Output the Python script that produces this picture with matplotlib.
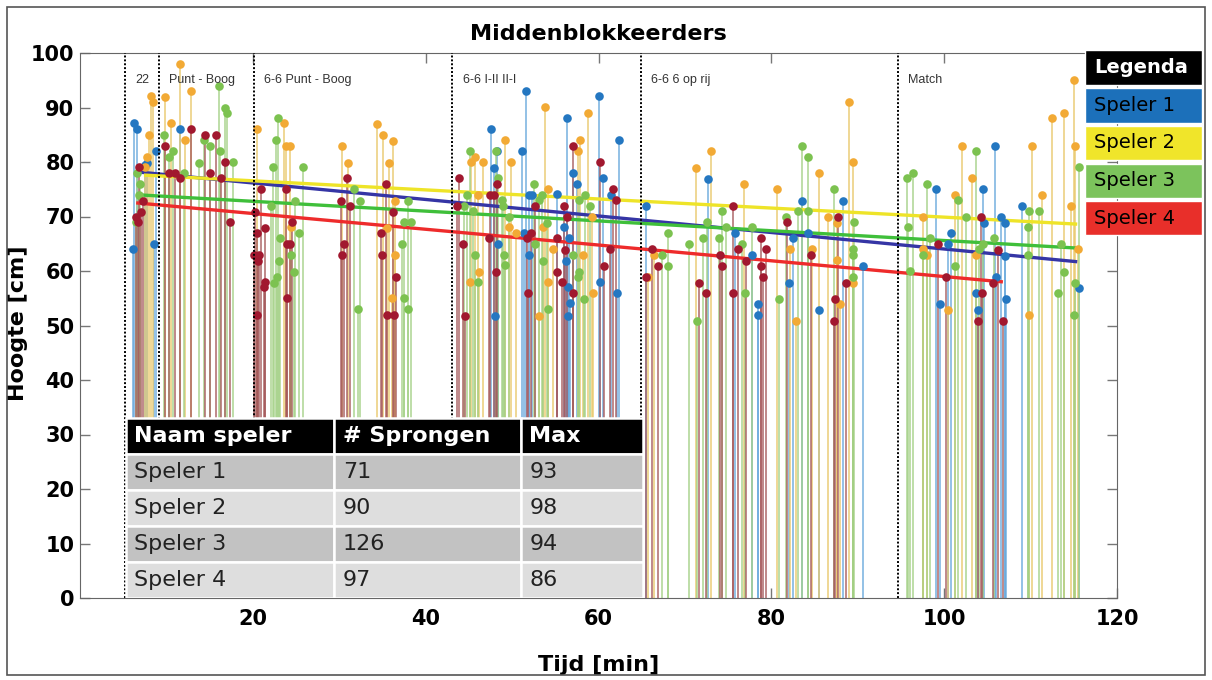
import numpy as np
import matplotlib
matplotlib.use("Agg")
import matplotlib.pyplot as plt
from matplotlib.patches import Rectangle

plt.rcParams['font.family'] = ['DejaVu Sans']

# jumps per player: time [min], height [cm]
s1_t = [6.1, 6.2, 6.6, 7.5, 7.8, 8.6, 8.8, 11.6,
        47.6, 47.9, 48.0, 48.3, 48.4, 51.2, 51.4, 51.6, 51.9, 52.0, 52.3, 55.2, 56.0, 56.2, 56.4,
        56.5, 56.6, 56.5, 56.7, 57.1, 57.5, 60.0, 60.2, 60.5, 61.4, 62.1, 62.4,
        65.5, 72.7, 75.8, 77.8, 78.5, 78.5, 82.1, 82.5, 83.5, 84.2, 85.5, 88.3, 90.6,
        99.1, 99.5, 100.5, 100.8, 103.7, 103.9, 104.5, 104.6, 105.9, 106.0, 106.6, 107.0, 107.0,
        107.1, 109.0, 115.6]
s1_h = [64, 87.2, 86, 79.5, 79.8, 65, 82, 86,
        86, 78.9, 51.8, 82, 65, 82, 67, 93, 74, 63, 74, 74.1, 68, 61.8, 88.1,
        57, 66, 51.8, 54.1, 78, 76, 92.1, 58, 77.1, 74, 56, 84,
        72, 76.9, 67, 63, 54, 52, 57.8, 66, 72.8, 67, 52.8, 72.8, 61,
        75, 54, 65, 67, 56, 52.8, 75, 68.8, 83, 58.9, 70, 68.8, 62.8,
        54.9, 71.9, 56.9]

s2_t = [7.5, 7.7, 8.0, 8.2, 8.4, 9.8, 10.5, 11.6, 12.1, 12.9,
        20.5, 23.6, 23.8, 24.3, 24.4, 30.3, 31.0, 34.4, 35.1, 35.5, 35.8, 36.1, 36.2, 36.5, 36.5,
        45.1, 45.3, 45.7, 46.1, 46.2, 46.6, 49.2, 49.7, 49.9, 50.5, 53.1, 53.6, 53.8, 54.2, 54.2,
        54.7, 57.6, 57.9, 58.2, 58.8, 59.2, 59.4,
        65.7, 66.4, 71.3, 73.0, 76.8, 80.7, 82.2, 82.9, 84.7, 85.5, 86.6, 87.6, 87.6, 88.0, 89.0,
        89.5, 89.5,
        97.6, 97.6, 98.0, 100.5, 101.2, 102.1, 103.2, 103.7, 109.8, 110.2, 111.3, 112.5, 113.9,
        114.7, 115.0, 115.1, 115.5]
s2_h = [79, 81, 85, 92.1, 91, 92, 87.1, 98, 84, 93,
        86, 87.1, 83, 83, 68, 83, 79.8, 87, 85, 67.9, 79.8, 55, 83.9, 72.8, 63,
        58, 80, 81, 74, 59.8, 80, 84, 68, 80, 67, 51.7, 68, 90.1, 75, 58,
        64, 82, 84, 63, 89, 70, 56,
        58.9, 63, 78.9, 82, 76, 75, 64, 50.8, 64, 78, 70, 68.8, 62, 54, 91,
        80, 57.8,
        70, 64, 63, 52.8, 74, 83, 77.1, 63, 52, 83, 74, 88, 89,
        72, 95, 83, 64]

s3_t = [6.5, 6.6, 6.8, 7.0, 9.7, 10.3, 10.8, 12.0, 13.8, 14.3, 15.0, 16.1, 16.2, 16.8, 17.0, 17.7,
        22.1, 22.3, 22.5, 22.7, 22.8, 22.9, 23.0, 23.2, 24.4, 24.8, 24.9, 25.3, 25.8, 31.7, 32.2,
        32.4, 37.3, 37.5, 37.5, 37.9, 38.0, 38.3,
        44.4, 44.8, 45.1, 45.5, 45.7, 46.1, 48.1, 48.4, 48.8, 49.0, 49.1, 49.2, 49.6, 52.5, 52.6,
        53.1, 53.5, 53.6, 54.0, 54.1, 57.1, 57.6, 57.7, 57.8, 58.3, 58.4, 59.0,
        67.4, 68.0, 68.1, 70.5, 71.4, 72.1, 72.5, 74.0, 74.3, 74.7, 76.6, 77.0, 77.8, 80.9, 81.7,
        83.1, 83.6, 84.2, 84.3, 87.2, 89.4, 89.5, 89.5, 89.6,
        95.7, 95.8, 96.0, 96.4, 97.6, 98.0, 98.4, 101.2, 101.6, 102.5, 103.7, 104.0, 104.5, 105.8,
        109.7, 109.7, 109.8, 111.0, 113.2, 113.5, 113.9, 115.0, 115.1, 115.6]
s3_h = [69, 78, 74, 76, 85, 81, 82, 78, 79.8, 84, 83, 94, 82, 90, 89, 80,
        72, 79, 57.8, 84, 58.9, 88, 61.8, 66, 63, 59.8, 72.8, 67, 79, 75, 53,
        72.8, 65, 69, 55, 72.8, 53, 69,
        72, 74, 82, 71, 63, 58, 82, 77.1, 73, 72, 63, 61.1, 70, 76, 65,
        73, 74, 61.8, 68.8, 53, 63, 58.9, 73, 59.8, 54.9, 74, 72,
        63, 61, 67, 65, 50.8, 66, 69, 66, 71, 68, 65, 56, 68, 54.9, 70,
        71, 83, 81, 71, 75, 58.9, 64, 63, 69,
        77.1, 68, 60, 78, 63, 76, 66, 61, 73, 70, 82, 64, 65, 66,
        68, 63, 71, 71, 56, 65, 59.8, 52, 57.8, 79]

s4_t = [6.5, 6.7, 6.8, 7.1, 7.3, 9.8, 10.3, 11.0, 11.6, 12.8, 14.5, 15.1, 15.7, 16.3, 16.8, 17.3,
        20.1, 20.3, 20.5, 20.5, 20.6, 20.7, 21.0, 21.3, 21.4, 21.4, 23.8, 24.0, 24.0, 24.3, 24.5,
        30.2, 30.3, 30.5, 30.9, 31.3, 34.8, 34.9, 35.4, 35.5, 36.2, 36.3, 36.6,
        43.6, 43.8, 44.3, 44.6, 47.3, 47.5, 47.9, 48.1, 48.3, 51.7, 51.8, 52.2, 52.7, 55.2, 55.2,
        55.8, 56.0, 56.1, 56.4, 57.0, 57.1, 60.2, 60.6, 61.3, 61.7, 62.0,
        65.5, 66.2, 66.9, 71.6, 72.4, 74.1, 74.3, 75.6, 75.6, 76.1, 77.1, 78.8, 78.8, 79.0, 79.4,
        81.8, 84.6, 87.2, 87.4, 87.7, 88.6,
        99.3, 100.2, 103.9, 104.3, 104.4, 105.7, 106.2, 106.8]
s4_h = [70, 69, 79, 70.8, 72.9, 83, 78, 78, 77.1, 86, 85, 78, 85, 77, 80, 69,
        63, 70.8, 67, 52, 61.8, 63, 75, 57, 67.9, 58, 75, 65, 55, 65, 69,
        72.8, 63, 65, 77.1, 72, 67, 63, 76, 52, 70.8, 52, 58.9,
        72, 77.1, 65, 51.8, 66, 74, 74, 59.8, 76, 66, 56, 67, 72, 66, 59.8,
        58, 72, 63.9, 70, 56, 83, 80, 61, 64, 75, 73,
        58.9, 64, 61, 57.8, 56, 63, 61, 72, 56, 64, 61.8, 66, 61, 58.9, 64,
        69, 63, 50.8, 54.9, 70, 57.8,
        65, 58.9, 50.8, 70, 56, 57.8, 63.9, 50.8]

# trend lines (start / end)
trend_x0 = [6.5, 7.4, 6.5, 6.5]
trend_y0 = [78.2, 77.6, 74.0, 72.5]
trend_x1 = [115.4, 115.4, 115.5, 106.8]
trend_y1 = [61.7, 68.6, 64.2, 58.0]

# training blocks
block_starts = [5.2, 9.1, 20.1, 43.1, 64.9, 94.6]
block_names = ["22", "Punt - Boog", "6-6 Punt - Boog", "6-6 I-II II-I", "6-6 6 op rij", "Match"]

players = ["Speler 1", "Speler 2", "Speler 3", "Speler 4"]
n_jumps = [71, 90, 126, 97]
max_jump = [93, 98, 94, 86]
table_head = ["Naam speler", "# Sprongen", "Max"]

marker_cols = ['#2477c1', '#f2aa35', '#7cc250', '#a1182f']
stem_cols = ['#67a8dc', '#e9c86a', '#a3d085', '#a5585a']
trend_cols = ['#3535a5', '#eee428', '#3fbf3a', '#ee2b2b']
legend_cols = ['#1c70ba', '#f0e52a', '#7cc35c', '#e82f2a']

W, H = 1212, 680
fig = plt.figure(figsize=(W / 100, H / 100), dpi=100)
ax = fig.add_axes([80 / W, 82 / H, 1037 / W, 545 / H])

series = [(s1_t, s1_h), (s2_t, s2_h), (s3_t, s3_h), (s4_t, s4_h)]
for i, (t, h) in enumerate(series):
    ax.vlines(t, 0, h, colors=stem_cols[i], lw=1.1, alpha=0.9, zorder=1)
for i in range(4):
    ax.plot([trend_x0[i], trend_x1[i]], [trend_y0[i], trend_y1[i]], color=trend_cols[i],
            lw=2.4, zorder=2, solid_capstyle='butt')
for i, (t, h) in enumerate(series):
    ax.plot(t, h, 'o', color=marker_cols[i], ms=6.2, mec='none', zorder=3)

for xs, name in zip(block_starts, block_names):
    ax.axvline(xs, color='black', ls=(0, (1, 1)), lw=1.4, zorder=4)
    ax.text(xs + 1.2, 95, name, fontsize=9, family='Liberation Sans', color='#333333',
            va='center', ha='left', zorder=4)

ax.set_xlim(0, 120)
ax.set_ylim(0, 100)
ax.set_xticks(range(20, 121, 20))
ax.set_yticks(range(0, 101, 10))
ax.tick_params(direction='in', top=True, right=True, length=7, width=1, color='#777777',
               labelsize=15)
ax.tick_params(axis='x', pad=8)
ax.tick_params(axis='y', pad=4)
for lab in ax.get_xticklabels() + ax.get_yticklabels():
    lab.set_fontweight('bold')
for sp in ax.spines.values():
    sp.set_color('#666666')

ax.set_title("Middenblokkeerders", fontsize=16, fontweight='bold', pad=9)
ax.set_xlabel("Tijd [min]", fontsize=16, fontweight='bold')
ax.set_ylabel("Hoogte [cm]", fontsize=16, fontweight='bold')
ax.xaxis.set_label_coords(0.5, -0.105)
ax.yaxis.set_label_coords(-0.05, 0.505)

# table inside the plot
col_edges = [5.3, 29.4, 51.0, 65.2]
row_h = 33.0 / 5
rows = [table_head] + [[p, str(n), str(m)] for p, n, m in zip(players, n_jumps, max_jump)]
for r, row in enumerate(rows):
    y0 = 33.0 - (r + 1) * row_h
    if r == 0:
        bg, fc, fw = 'black', 'white', 'bold'
    else:
        bg, fc, fw = ('#c2c2c2' if r % 2 == 1 else '#dedede'), '#222222', 'normal'
    for c in range(3):
        ax.add_patch(Rectangle((col_edges[c], y0), col_edges[c + 1] - col_edges[c], row_h,
                               facecolor=bg, edgecolor='white', lw=1.8, zorder=6))
        ax.text(col_edges[c] + 1.0, y0 + row_h / 2, row[c], color=fc, fontsize=16,
                fontweight=fw, va='center', ha='left', zorder=7)

# legend boxes to the right
def px_box(x0, y0, x1, y1):
    return (x0 / W, 1 - y1 / H), (x1 - x0) / W, (y1 - y0) / H

legend_rows = [("Legenda", 'black', 'white', 'bold')] + \
    [(p, c, 'black', 'normal') for p, c in zip(players, legend_cols)]
for k, (txt, bg, fc, fw) in enumerate(legend_rows):
    top = 50 + k * 37.5
    xy, w, h = px_box(1085, top + (0 if k == 0 else 1), 1202, top + 35)
    fig.add_artist(Rectangle(xy, w, h, transform=fig.transFigure, facecolor=bg,
                             edgecolor='white', lw=1, zorder=10))
    fig.text(1094 / W, xy[1] + h / 2, txt, color=fc, fontsize=14, fontweight=fw,
             va='center', ha='left', zorder=11)

# outer frame
fig.add_artist(Rectangle((7 / W, 5 / H), 1 - 14 / W, 1 - 12 / H, transform=fig.transFigure,
                         facecolor='none', edgecolor='#555555', lw=1.2))

fig.savefig("out.png", dpi=100)
